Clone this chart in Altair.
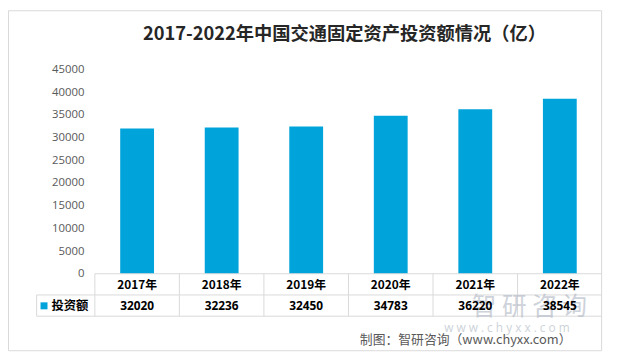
import altair as alt
import pandas as pd

title_text = "2017-2022年中国交通固定资产投资额情况（亿）"
years = ["2017年", "2018年", "2019年", "2020年", "2021年", "2022年"]
values = [32020, 32236, 32450, 34783, 36220, 38545]
y_ticks = [0, 5000, 10000, 15000, 20000, 25000, 30000, 35000, 40000, 45000]
series_name = "投资额"
footer = "制图：智研咨询（www.chyxx.com）"
watermark = "智 研 咨 询"
watermark_url = "w w w . c h y x x . c o m"

BLUE = "#00A3DA"
GRID = "#d9d9d9"
CJK = "Noto Sans CJK SC"

df = pd.DataFrame({"year": years, "value": values})

W, H = 514, 207
TOP = 60

xs = alt.Scale(domain=years, paddingInner=0, paddingOuter=0)
x_enc = alt.X("year:N", scale=xs, axis=None, sort=years)

base = alt.Chart(df)

bars = base.mark_bar(color=BLUE, width=alt.RelativeBandSize(0.4)).encode(
    x=x_enc,
    y=alt.Y("value:Q",
            scale=alt.Scale(domain=[0, 45000], nice=False),
            axis=alt.Axis(values=y_ticks, format="d", title=None, grid=False,
                          ticks=False, domain=False, labelPadding=11,
                          labelFontSize=11.5, labelFont="Open Sans",
                          labelColor="#595959")),
)

one = pd.DataFrame({"k": [0]})

frame = alt.Chart(one).mark_rect(fill=None, stroke="#d9d9d9", strokeWidth=1).encode(
    x=alt.value(-87.5), x2=alt.value(513.5), y=alt.value(-TOP + 0.5), y2=alt.value(285)
)

title = alt.Chart(pd.DataFrame({"t": [title_text]})).mark_text(
    font=CJK, fontSize=18.5, fontWeight="bold", color="#262626", align="center", baseline="middle"
).encode(text="t:N", x=alt.value(253), y=alt.value(-36))

# table lines
hlines = alt.Chart(pd.DataFrame({"y": [207, 228.5, 250], "x0": [0, -59, -59]})).mark_rule(
    color=GRID, strokeWidth=1
).encode(x=alt.X("x0:Q", scale=None), x2=alt.value(W), y=alt.Y("y:Q", scale=None))

vlines = base.mark_rule(color=GRID, strokeWidth=1).encode(
    x=alt.X("year:N", scale=xs, axis=None, sort=years, bandPosition=0),
    y=alt.value(207), y2=alt.value(250)
)
vline_left = alt.Chart(one).mark_rule(color=GRID, strokeWidth=1).encode(
    x=alt.value(-59), y=alt.value(228.5), y2=alt.value(250)
)

wm = alt.Chart(pd.DataFrame({"t": [watermark]})).mark_text(
    font=CJK, fontSize=25, color="#aeb5c2", opacity=0.6, align="left", baseline="middle"
).encode(text="t:N", x=alt.value(382), y=alt.value(241))
wm_url = alt.Chart(pd.DataFrame({"t": [watermark_url]})).mark_text(
    font="Open Sans", fontSize=12, color="#b9bfca", opacity=0.7, align="left", baseline="middle"
).encode(text="t:N", x=alt.value(354), y=alt.value(262))

year_text = base.mark_text(font=CJK, fontSize=12, fontWeight="bold", color="#000000",
                           baseline="middle").encode(
    x=x_enc, y=alt.value(218), text="year:N"
)
val_text = base.mark_text(font="Open Sans", fontSize=12, fontWeight="bold", color="#000000",
                          baseline="middle").encode(
    x=x_enc, y=alt.value(239.5), text=alt.Text("value:Q", format="d")
)

legend_sq = alt.Chart(pd.DataFrame({"s": [series_name]})).mark_square(
    color=BLUE, size=50, opacity=1
).encode(x=alt.value(-51.5), y=alt.value(239.5))
legend_tx = alt.Chart(pd.DataFrame({"s": [series_name]})).mark_text(
    font=CJK, fontSize=12.5, fontWeight="bold", color="#000000", align="left", baseline="middle"
).encode(text="s:N", x=alt.value(-44), y=alt.value(239.5))

foot = alt.Chart(pd.DataFrame({"t": [footer]})).mark_text(
    font=CJK, fontSize=13, color="#595959", align="right", baseline="middle"
).encode(text="t:N", x=alt.value(483), y=alt.value(274))

chart = alt.layer(
    frame, title, bars, hlines, vlines, vline_left, wm, wm_url,
    year_text, val_text, legend_sq, legend_tx, foot
).properties(
    width=W, height=H,
    autosize=alt.AutoSizeParams(type="none"),
    padding={"left": 88, "top": TOP, "right": 7, "bottom": 78},
).configure_view(stroke=None)

chart.save("out.html", embed_options={"renderer": "svg", "actions": False})
